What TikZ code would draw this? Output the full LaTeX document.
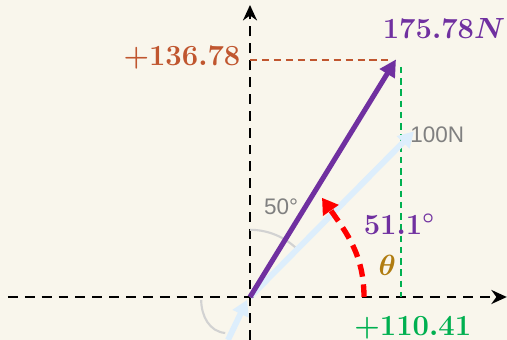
\documentclass[tikz,border=0pt]{standalone}
\usepackage{amsmath}
\usepackage{amssymb}
\usepackage{xcolor}
\usepackage{fontspec}
\setsansfont{Liberation Sans}
\usepackage{tikz}
\usetikzlibrary{arrows.meta}

\definecolor{sfondo}{HTML}{F9F6EC}
\definecolor{viola}{HTML}{7030A0}
\definecolor{mattone}{HTML}{C0562F}
\definecolor{verde}{HTML}{00B050}
\definecolor{celeste}{HTML}{DDEEFC}
\definecolor{ocra}{HTML}{B07C10}
\definecolor{grigio}{HTML}{808080}
\definecolor{grigiochiaro}{HTML}{D2D2D2}

\tikzset{
    asse/.style={line width=1.5pt, dash pattern=on 7pt off 5pt, -{Stealth[length=11pt,width=10pt]}},
    valore/.style={font=\fontsize{21}{23}\selectfont\boldmath},
    dicitura/.style={font=\fontsize{16}{18}\selectfont\sffamily, text=grigio}
}

\begin{document}
\begin{tikzpicture}
        \fill[sfondo] (-6.25,-1.075) rectangle (6.425,7.425);
        \useasboundingbox (-6.25,-1.075) rectangle (6.425,7.425);

        % Punti
        \coordinate (O) at (0,0);
        \coordinate (Xs) at (-6.05,0);
        \coordinate (Xd) at (6.42,0);
        \coordinate (Yg) at (0,-1.075);
        \coordinate (Ys) at (0,7.3);
        \coordinate (R) at (3.65,5.94);
        \coordinate (Rx) at (3.78,0);
        \coordinate (Rxa) at (3.78,5.75);
        \coordinate (Ry) at (3.57,5.925);
        \coordinate (Ry0) at (0,5.925);
        \coordinate (F) at (4.1,4.14);
        \coordinate (Fc) at (-0.55,-1.075);
        \coordinate (Ft) at (-0.07,-0.07);
        \coordinate (T0) at (2.85,0);
        \coordinate (T1) at (1.8,2.48);

        % Assi
        \draw[asse] (Xs) -- (Xd);
        \draw[asse] (Yg) -- (Ys);

        % Archi grigi
        \draw[grigiochiaro, line width=1.5pt] (0,1.68) arc[start angle=90, end angle=44, radius=1.68];
        \draw[grigiochiaro, line width=1.5pt] (-1.22,-0.07) to[out=-90, in=175] (-0.62,-0.9);

        % Componenti
        \draw[mattone, line width=1.1pt, dash pattern=on 5pt off 3.5pt] (Ry0) -- (Ry);
        \draw[verde, line width=1.1pt, dash pattern=on 4.5pt off 3.5pt] (Rxa) -- (Rx);

        % Vettori
        \draw[celeste, line width=4.2pt, -{Triangle[length=11pt,width=12pt]}] (Fc) -- (Ft);
        \draw[celeste, line width=4.2pt, -{Triangle[length=11pt,width=12pt]}] (O) -- (F);
        \draw[viola, line width=3.6pt, -{Triangle[length=12pt,width=12pt]}] (O) -- (R);

        % Angolo
        \draw[red, line width=3.8pt, dash pattern=on 9pt off 5.5pt, -{Triangle[length=11pt,width=13pt]}]
            (T0) to[out=90, in=-55] (T1);

        % Etichette
        \node[valore, text=mattone] (lRy) at (-1.7,5.975) {$+136.78$};
        \node[valore, text=viola] (lR) at (4.85,6.72) {$175.78N$};
        \node[valore, text=verde] (lRx) at (4.07,-0.78) {$+110.41$};
        \node[valore, text=viola] (lAng) at (3.73,1.82) {$51.1^\circ$};
        \node[valore, text=ocra] (lTheta) at (3.43,0.8) {$\theta$};
        \node[dicitura] (lF) at (4.68,4.05) {100N};
        \node[dicitura] (l50) at (0.78,2.25) {50°};
\end{tikzpicture}
\end{document}
